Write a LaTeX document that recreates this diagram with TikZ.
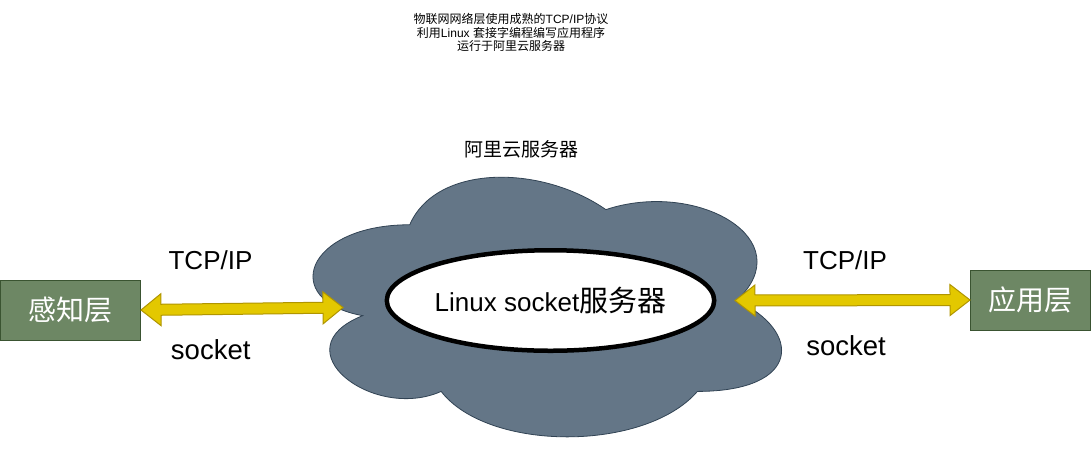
\documentclass[tikz,border=0pt]{standalone}
\usepackage{fontspec}
\setmainfont{Liberation Sans}
\newfontfamily\cjk{Noto Sans CJK SC}
\usetikzlibrary{calc,shapes.geometric}
\definecolor{layerfill}{HTML}{6D8764}
\definecolor{layerline}{HTML}{3A5431}
\definecolor{arrowfill}{HTML}{E3C800}
\definecolor{arrowline}{HTML}{B09500}
\definecolor{cloudfill}{HTML}{647687}
\definecolor{cloudline}{HTML}{314354}
\tikzset{
  layerbox/.style={draw=layerline, fill=layerfill, line width=1pt, inner sep=0pt,
    text=white, font=\fontsize{28}{32}\selectfont\cjk},
  fatarrow/.style={draw=arrowline, fill=arrowfill, line width=1pt, line join=miter},
  cloudshape/.style={draw=cloudline, fill=cloudfill, line width=0.8pt},
  server/.style={ellipse, draw=black, fill=white, line width=4.5pt, inner sep=0pt,
    minimum width=320pt, minimum height=100.5pt, font=\fontsize{26}{30}\selectfont},
  proto/.style={anchor=base, inner sep=0pt, font=\fontsize{26}{30}\selectfont},
  sock/.style={anchor=base, inner sep=0pt, font=\fontsize{27.5}{30}\selectfont},
  note/.style={align=center, inner sep=0pt, font=\fontsize{12}{13.8}\selectfont\cjk},
  cloudlabel/.style={inner sep=0pt, font=\fontsize{19}{22}\selectfont\cjk}
}
\newcommand\flexarrow[4]{% #1 start, #2 end, #3 body half width, #4 head half width
  \coordinate (fa1) at ($(#1)!20pt!(#2)$);
  \coordinate (fa2) at ($(#2)!20pt!(#1)$);
  \draw[fatarrow] (#1) -- ($(fa1)!#4!90:(#2)$) -- ($(fa1)!#3!90:(#2)$)
    -- ($(fa2)!#3!-90:(#1)$) -- ($(fa2)!#4!-90:(#1)$) -- (#2)
    -- ($(fa2)!#4!90:(#1)$) -- ($(fa2)!#3!90:(#1)$)
    -- ($(fa1)!#3!-90:(#2)$) -- ($(fa1)!#4!-90:(#2)$) -- cycle;}
\begin{document}
\begin{tikzpicture}[x=1pt,y=-1pt]
\useasboundingbox (0,0) rectangle (1091,451);
\fill[white] (0,0) rectangle (1091,451);

% top note
\node[note] (topnote) at (511,32.5) {物联网网络层使用成熟的{\rmfamily TCP/IP}协议\\利用{\rmfamily Linux }套接字编程编写应用程序\\运行于阿里云服务器};

% cloud label
\node[cloudlabel] (cloudtitle) at (521,149.5) {阿里云服务器};

% cloud
\begin{scope}[shift={(279,149)}, x=523pt, y=-303pt]
\draw[cloudshape] (0.25,0.25) .. controls (0.05,0.25) and (0,0.5) .. (0.16,0.55)
  .. controls (0,0.66) and (0.18,0.9) .. (0.31,0.8)
  .. controls (0.4,1) and (0.7,1) .. (0.8,0.8)
  .. controls (1,0.8) and (1,0.6) .. (0.875,0.5)
  .. controls (1,0.3) and (0.8,0.1) .. (0.625,0.2)
  .. controls (0.5,0.05) and (0.3,0.05) .. (0.25,0.25) -- cycle;
\end{scope}
\coordinate (cL) at (343,307.5);
\coordinate (cR) at (735,300.5);

% server ellipse
\node[server] (srv) at (550.5,300.5) {Linux socket{\fontsize{29}{30}\selectfont\cjk 服务器}};

% layer boxes
\node[layerbox, minimum width=140pt, minimum height=60pt] (sense) at (70.5,310) {感知层};
\node[layerbox, minimum width=120pt, minimum height=60pt] (app) at (1030.5,300) {应用层};

% arrows
\flexarrow{sense.east}{cL}{5.5pt}{16pt}
\flexarrow{cR}{app.west}{5.5pt}{15.5pt}

% protocol labels
\node[proto] (tcpL) at (210.5,269.3) {TCP/IP};
\node[sock] (sockL) at (210.7,359.5) {socket};
\node[proto] (tcpR) at (845,269.3) {TCP/IP};
\node[sock] (sockR) at (846,355) {socket};
\end{tikzpicture}
\end{document}
